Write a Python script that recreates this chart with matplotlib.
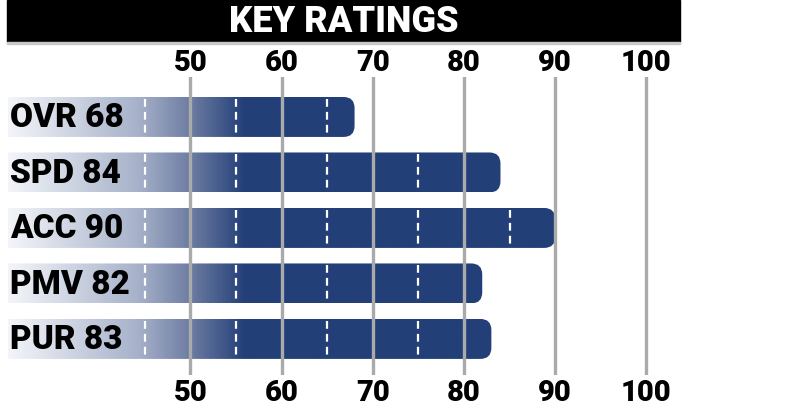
import numpy as np
import matplotlib
matplotlib.use("Agg")
import matplotlib.pyplot as plt
from matplotlib.patches import FancyBboxPatch, Rectangle
from matplotlib.colors import LinearSegmentedColormap, Normalize

# ratings data
labels = ["OVR", "SPD", "ACC", "PMV", "PUR"]
ratings = [68, 84, 90, 82, 83]
ticks = [50, 60, 70, 80, 90, 100]
dash_marks = [45, 55, 65, 75, 85]
title = "KEY RATINGS"

NAVY = "#233f78"
GRID = "#aaaaaa"
FONT = "Roboto"
WEIGHT = "black"

W, H = 785, 415
fig = plt.figure(figsize=(W / 100, H / 100), dpi=100)

# axes placed in pixels: value 30 at x=8, 9.12 px per unit
x0_px, px_per = 8, 9.12
xmin, xmax = 30, 105
ax_left = x0_px / W
ax_width = (xmax - xmin) * px_per / W
ax_top, ax_bot = 77, 375
ax = fig.add_axes([ax_left, 1 - ax_bot / H, ax_width, (ax_bot - ax_top) / H])
ax.set_xlim(xmin, xmax)
ax.set_ylim(4.65, -0.72)
for s in ax.spines.values():
    s.set_visible(False)
ax.set_yticks([])

cmap = LinearSegmentedColormap.from_list(
    "fade", [(0, "#f3f5f9"), (0.55, "#a6b1c9"), (0.78, "#6a7aa0"), (1, NAVY)])
norm = Normalize(30, 56, clip=True)
bar_h = 0.72
# corner radius ~11px
rx = 11 / px_per
aspect = (11 / 55.5) / rx

for i, (lab, val) in enumerate(zip(labels, ratings)):
    y0 = i - bar_h / 2
    patch = FancyBboxPatch((27, y0), val - 27, bar_h,
                           boxstyle=f"round,pad=0,rounding_size={rx}",
                           mutation_aspect=aspect, fc="none", ec="none")
    ax.add_patch(patch)
    grad = np.linspace(27, val, 600).reshape(1, -1)
    im = ax.imshow(grad, cmap=cmap, norm=norm, aspect="auto",
                   extent=(27, val, i + bar_h / 2, y0), interpolation="bilinear",
                   zorder=1)
    im.set_clip_path(patch)
    for d in dash_marks:
        if d < val - 1:
            ax.plot([d, d], [y0 + 0.03, y0 + bar_h - 0.03], color="white",
                    lw=1.6, ls=(0, (3.5, 2.3)), zorder=2)
    ax.text(30.25, i + 0.02, f"{lab} {val}", ha="left", va="center",
            fontsize=24, fontweight=WEIGHT, family=FONT, color="black", zorder=4)

for t in ticks:
    ax.axvline(t, color=GRID, lw=2.4, zorder=3)

ax.set_xticks(ticks)
ax.tick_params(axis="x", length=0, pad=3, labelsize=21)
for lb in ax.get_xticklabels():
    lb.set_fontweight(WEIGHT)
    lb.set_family(FONT)
top = ax.secondary_xaxis("top")
top.set_xticks(ticks)
top.tick_params(axis="x", length=0, pad=0, labelsize=21)
for lb in top.get_xticklabels():
    lb.set_fontweight(WEIGHT)
    lb.set_family(FONT)
for s in top.spines.values():
    s.set_visible(False)

# title bar
fig.add_artist(Rectangle((7 / W, 1 - 42 / H), 673 / W, 42 / H,
                         transform=fig.transFigure, color="black"))
fig.add_artist(Rectangle((7 / W, 1 - 44 / H), 673 / W, 2 / H,
                         transform=fig.transFigure, color="#c8c8c8"))
fig.text(344 / W, 1 - 22 / H, title, ha="center", va="center", color="white",
         fontsize=26, fontweight=WEIGHT, family=FONT)

fig.savefig("out.png", dpi=100)
